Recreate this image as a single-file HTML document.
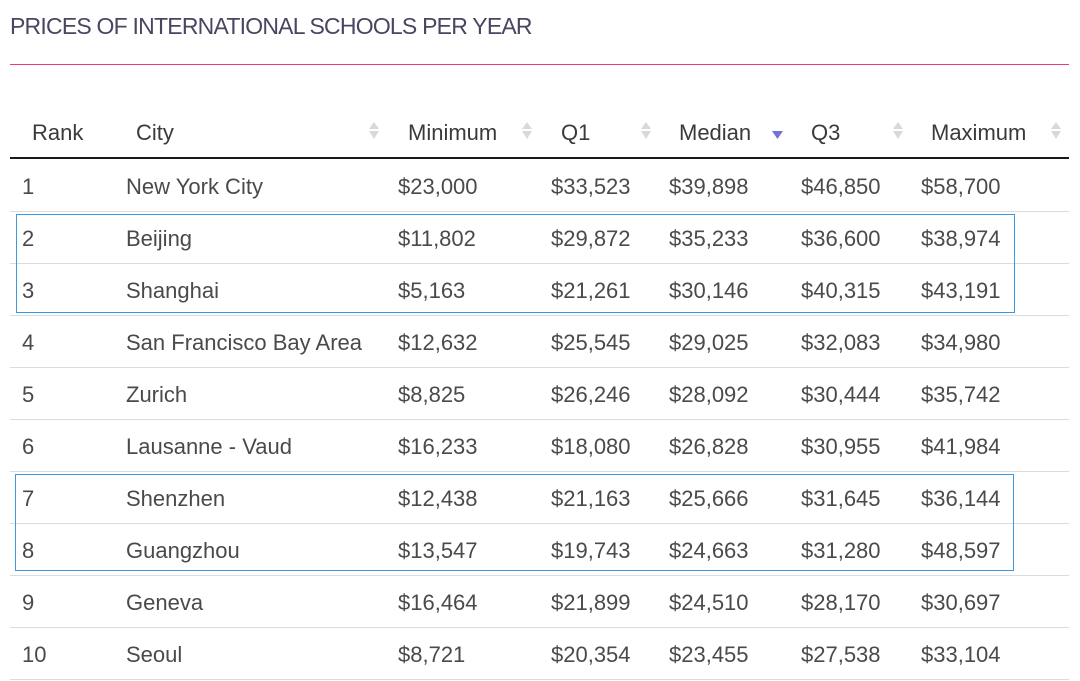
<!DOCTYPE html>
<html>
<head>
<meta charset="utf-8">
<style>
  html, body { margin:0; padding:0; background:#fff; }
  body { width:1080px; height:681px; position:relative; overflow:hidden; font-family:"Liberation Sans", sans-serif; }
  .title { position:absolute; left:10px; top:15px; font-size:23px; line-height:23px; letter-spacing:-0.78px; color:#4a4560; white-space:nowrap; }
  .pink { position:absolute; left:10px; top:64px; width:1059px; height:1px; background:#e8406a; }
  .hdr { position:absolute; top:107px; height:52px; line-height:52px; font-size:22px; color:#3a3a3a; white-space:nowrap; }
  .hline { position:absolute; left:10px; top:157px; width:1059px; height:2px; background:#1a1a1a; }
  .row { position:absolute; left:0; width:1080px; height:52px; }
  .row div { position:absolute; top:2px; line-height:52px; font-size:22px; color:#4a4a4a; white-space:nowrap; }
  .sep { position:absolute; left:10px; width:1059px; height:1px; background:#dcdcdc; }
  .c1{left:22px}.c2{left:126px}.c3{left:398px}.c4{left:551px}.c5{left:669px}.c6{left:801px}.c7{left:921px}
  .box { position:absolute; border:1px solid #3d98e0; box-sizing:border-box; }
  svg.icons { position:absolute; left:0; top:0; }
</style>
</head>
<body>
<div class="title">PRICES OF INTERNATIONAL SCHOOLS PER YEAR</div>
<div class="pink"></div>

<div class="hdr" style="left:32px">Rank</div>
<div class="hdr" style="left:136px">City</div>
<div class="hdr" style="left:408px">Minimum</div>
<div class="hdr" style="left:561px">Q1</div>
<div class="hdr" style="left:679px">Median</div>
<div class="hdr" style="left:811px">Q3</div>
<div class="hdr" style="left:931px">Maximum</div>

<svg class="icons" width="1080" height="160">
  <g fill="#d9d9d9">
    <polygon points="369,129 379,129 374,122"/><polygon points="369,131 379,131 374,139"/>
    <polygon points="522,129 532,129 527,122"/><polygon points="522,131 532,131 527,139"/>
    <polygon points="641,129 651,129 646,122"/><polygon points="641,131 651,131 646,139"/>
    <polygon points="893,129 903,129 898,122"/><polygon points="893,131 903,131 898,139"/>
    <polygon points="1051,129 1061,129 1056,122"/><polygon points="1051,131 1061,131 1056,139"/>
  </g>
  <polygon points="772,131 783,131 777.5,139" fill="#7373d6"/>
</svg>

<div class="hline"></div>

<div class="row" style="top:159px"><div class="c1">1</div><div class="c2">New York City</div><div class="c3">$23,000</div><div class="c4">$33,523</div><div class="c5">$39,898</div><div class="c6">$46,850</div><div class="c7">$58,700</div></div>
<div class="row" style="top:211px"><div class="c1">2</div><div class="c2">Beijing</div><div class="c3">$11,802</div><div class="c4">$29,872</div><div class="c5">$35,233</div><div class="c6">$36,600</div><div class="c7">$38,974</div></div>
<div class="row" style="top:263px"><div class="c1">3</div><div class="c2">Shanghai</div><div class="c3">$5,163</div><div class="c4">$21,261</div><div class="c5">$30,146</div><div class="c6">$40,315</div><div class="c7">$43,191</div></div>
<div class="row" style="top:315px"><div class="c1">4</div><div class="c2">San Francisco Bay Area</div><div class="c3">$12,632</div><div class="c4">$25,545</div><div class="c5">$29,025</div><div class="c6">$32,083</div><div class="c7">$34,980</div></div>
<div class="row" style="top:367px"><div class="c1">5</div><div class="c2">Zurich</div><div class="c3">$8,825</div><div class="c4">$26,246</div><div class="c5">$28,092</div><div class="c6">$30,444</div><div class="c7">$35,742</div></div>
<div class="row" style="top:419px"><div class="c1">6</div><div class="c2">Lausanne - Vaud</div><div class="c3">$16,233</div><div class="c4">$18,080</div><div class="c5">$26,828</div><div class="c6">$30,955</div><div class="c7">$41,984</div></div>
<div class="row" style="top:471px"><div class="c1">7</div><div class="c2">Shenzhen</div><div class="c3">$12,438</div><div class="c4">$21,163</div><div class="c5">$25,666</div><div class="c6">$31,645</div><div class="c7">$36,144</div></div>
<div class="row" style="top:523px"><div class="c1">8</div><div class="c2">Guangzhou</div><div class="c3">$13,547</div><div class="c4">$19,743</div><div class="c5">$24,663</div><div class="c6">$31,280</div><div class="c7">$48,597</div></div>
<div class="row" style="top:575px"><div class="c1">9</div><div class="c2">Geneva</div><div class="c3">$16,464</div><div class="c4">$21,899</div><div class="c5">$24,510</div><div class="c6">$28,170</div><div class="c7">$30,697</div></div>
<div class="row" style="top:627px"><div class="c1">10</div><div class="c2">Seoul</div><div class="c3">$8,721</div><div class="c4">$20,354</div><div class="c5">$23,455</div><div class="c6">$27,538</div><div class="c7">$33,104</div></div>

<div class="sep" style="top:211px"></div>
<div class="sep" style="top:263px"></div>
<div class="sep" style="top:315px"></div>
<div class="sep" style="top:367px"></div>
<div class="sep" style="top:419px"></div>
<div class="sep" style="top:471px"></div>
<div class="sep" style="top:523px"></div>
<div class="sep" style="top:575px"></div>
<div class="sep" style="top:627px"></div>
<div class="sep" style="top:679px"></div>

<div class="box" style="left:16px; top:214px; width:999px; height:99px;"></div>
<div class="box" style="left:15px; top:474px; width:999px; height:97px;"></div>
</body>
</html>
